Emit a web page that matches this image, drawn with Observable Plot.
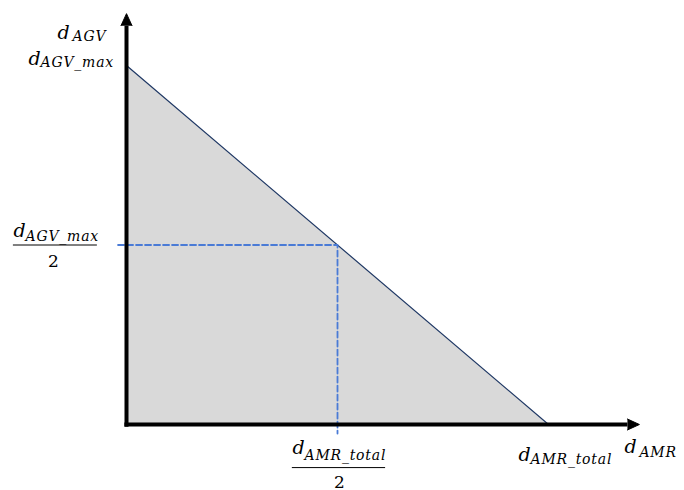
<!DOCTYPE html>
<html>
<head>
<meta charset="utf-8">
<script src="https://cdn.jsdelivr.net/npm/d3@7"></script>
<script src="https://cdn.jsdelivr.net/npm/@observablehq/plot@0.6"></script>
<style>
  html, body { margin: 0; padding: 0; background: #fff; }
  /* subscripts are set slightly spaced out */
  g[font-size="14"] text { letter-spacing: 0.8px; }
</style>
</head>
<body>
<div id="chart"></div>
<script>
// Feasible region: AGV distance vs AMR distance (normalised units)
const dAmrTotal = 1;
const dAgvMax = 1;

// Corner points of the triangle (intercepts on both axes)
const boundary = [
  {x: 0, y: dAgvMax},
  {x: dAmrTotal, y: 0}
];

// Half-way point on the boundary, with guide lines down to both axes
const half = {x: dAmrTotal / 2, y: dAgvMax / 2};
const guide = [
  {x: -0.02, y: half.y},
  {x: half.x, y: half.y},
  {x: half.x, y: -0.025}
];

// Axis extents (beyond the triangle, up to the arrow heads)
const xAxisEnd = 1.187;
const yAxisEnd = 1.111;

const serif = "DejaVu Serif";

// Label pieces: main symbol "d" and its subscript, each tied to a point of the diagram
const mainLabels = [
  {x: 0, y: yAxisEnd, text: "d", dx: -69, dy: 13},
  {x: 0, y: dAgvMax, text: "d", dx: -98, dy: -1},
  {x: 0, y: half.y, text: "d", dx: -113, dy: -8},
  {x: half.x, y: 0, text: "d", dx: -45, dy: 29},
  {x: dAmrTotal, y: 0, text: "d", dx: -30, dy: 36},
  {x: xAxisEnd, y: 0, text: "d", dx: -3, dy: 28}
];
const subLabels = [
  {x: 0, y: yAxisEnd, text: "AGV", dx: -54, dy: 15},
  {x: 0, y: dAgvMax, text: "AGV_max", dx: -86, dy: 1},
  {x: 0, y: half.y, text: "AGV_max", dx: -101, dy: -4},
  {x: half.x, y: 0, text: "AMR_total", dx: -33, dy: 35},
  {x: dAmrTotal, y: 0, text: "AMR_total", dx: -18, dy: 39},
  {x: xAxisEnd, y: 0, text: "AMR", dx: 12, dy: 32}
];
const denominators = [
  {x: 0, y: half.y, text: "2", dx: -73, dy: 22},
  {x: half.x, y: 0, text: "2", dx: 2, dy: 63}
];

function labelMarks(rows, opts) {
  return rows.map(d => Plot.text([d], {
    x: "x", y: "y", text: "text", dx: d.dx, dy: d.dy,
    fontFamily: serif, fill: "black", lineAnchor: "bottom", ...opts
  }));
}

const chart = Plot.plot({
  width: 684,
  height: 490,
  margin: 0,
  x: {domain: [0, 1], range: [126, 548], axis: null},
  y: {domain: [0, 1], range: [424, 65], axis: null},
  marks: [
    Plot.areaY(boundary, {x: "x", y: "y", fill: "#d9d9d9"}),
    Plot.line(boundary, {x: "x", y: "y", stroke: "#1f3864", strokeWidth: 1.2}),
    Plot.line(guide, {x: "x", y: "y", stroke: "#4a7bd6", strokeWidth: 1.8, strokeDasharray: "6,3"}),
    // axes with filled arrow heads
    Plot.link([{x1: -0.005, y1: 0, x2: xAxisEnd, y2: 0}], {x1: "x1", y1: "y1", x2: "x2", y2: "y2", stroke: "black", strokeWidth: 4}),
    Plot.link([{x1: 0, y1: -0.006, x2: 0, y2: yAxisEnd}], {x1: "x1", y1: "y1", x2: "x2", y2: "y2", stroke: "black", strokeWidth: 4}),
    Plot.vector([{x: xAxisEnd, y: 0}], {x: "x", y: "y", length: 12, rotate: 90, shape: "spike", r: 5.5, anchor: "start", stroke: "black", fill: "black", strokeWidth: 1}),
    Plot.vector([{x: 0, y: yAxisEnd}], {x: "x", y: "y", length: 12, rotate: 0, shape: "spike", r: 5.5, anchor: "start", stroke: "black", fill: "black", strokeWidth: 1}),
    // fraction bars
    Plot.ruleY([half.y], {x1: -0.268, x2: -0.069, stroke: "black", strokeWidth: 1}),
    Plot.ruleY([-0.12], {x1: 0.393, x2: 0.614, stroke: "black", strokeWidth: 1}),
    // labels
    ...labelMarks(mainLabels, {fontStyle: "italic", fontSize: 19, textAnchor: "start"}),
    ...labelMarks(subLabels, {fontStyle: "italic", fontSize: 14, textAnchor: "start"}),
    ...labelMarks(denominators, {fontSize: 17, textAnchor: "middle"})
  ]
});
document.getElementById("chart").append(chart);
</script>
</body>
</html>
